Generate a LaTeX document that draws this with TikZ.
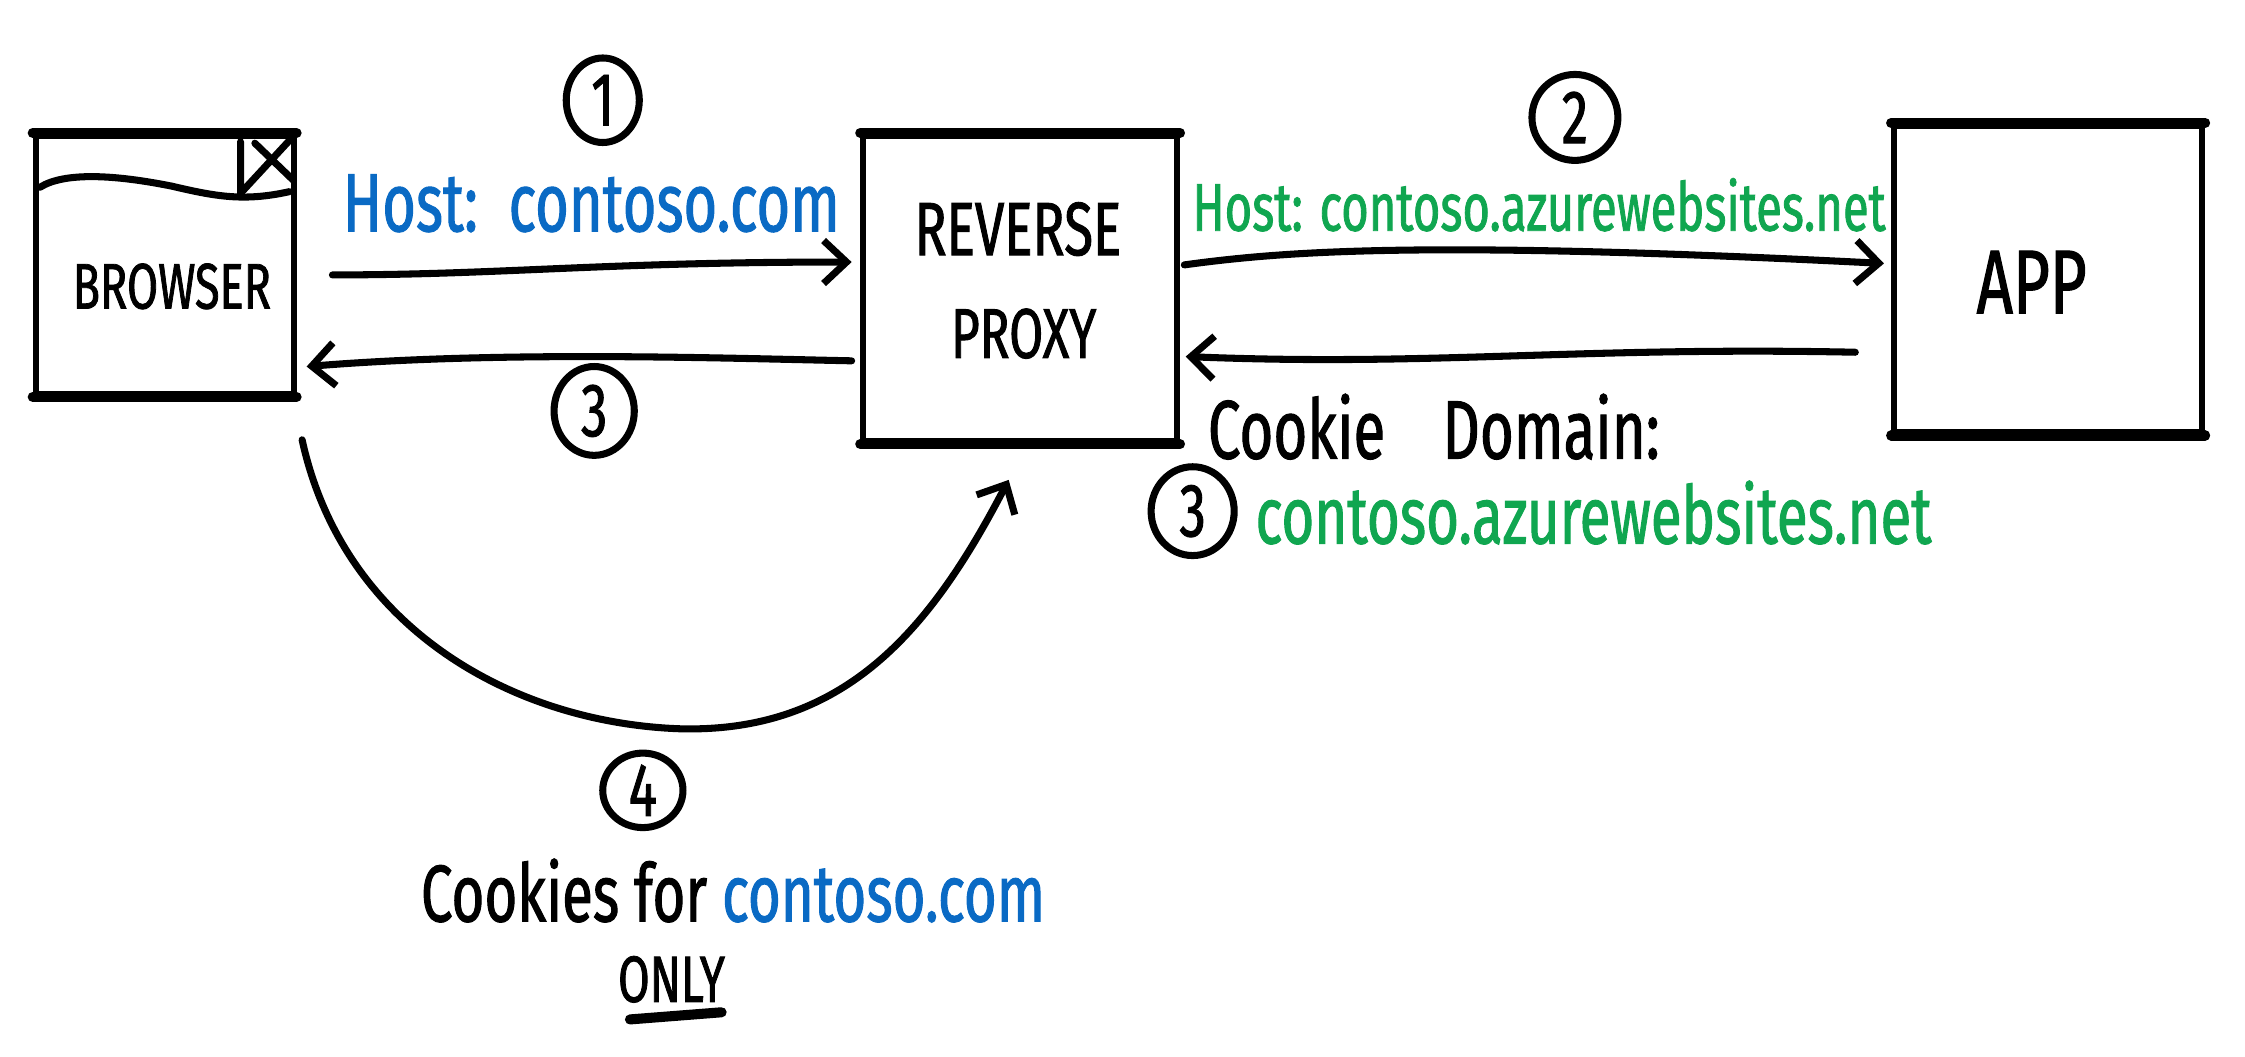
\documentclass[tikz,border=0pt]{standalone}
\usepackage{fontspec}
\setmainfont[FakeStretch=0.7,FakeBold=1.2]{Fira Sans}
\usetikzlibrary{arrows.meta,shapes.geometric}
\definecolor{hblue}{RGB}{10,106,196}
\definecolor{hgreen}{RGB}{16,166,80}
\tikzset{
  x=0.01cm, y=-0.01cm,
  pen/.style={line width=1.4pt, line cap=round, line join=round},
  thickpen/.style={line width=2pt, line cap=round},
  boxnode/.style={draw, line width=1.2pt, inner sep=0pt},
  flow/.style={pen, -{Straight Barb[length=0.16cm, width=0.3cm, line width=1.4pt]}},
  numcirc/.style={draw, ellipse, line width=1.4pt, inner sep=0pt, font=\fontsize{15}{15}\selectfont},
  lbl/.style={inner sep=0pt, anchor=center},
}
\begin{document}
\begin{tikzpicture}
\useasboundingbox (0,0) rectangle (1568,738);
% boxes
\node[boxnode, minimum width=1.8cm, minimum height=1.8cm] (browser) at (115,185) {};
\node[boxnode, minimum width=2.19cm, minimum height=2.13cm] (proxy) at (712.5,201.5) {};
\node[boxnode, minimum width=2.15cm, minimum height=2.14cm] (app) at (1430.5,195) {};
\foreach \b in {browser,proxy,app}{
  \draw[thickpen] (\b.north west) -- (\b.north east);
  \draw[thickpen] (\b.south west) -- (\b.south east);
}
% browser title bar and close mark
\draw[pen] ([shift={(5,38)}]browser.north west) .. controls (45,120) and (80,122) .. (120,130) .. controls (150,137) and (170,141) .. ([shift={(-5,41)}]browser.north east);
\draw[pen] (168,99) -- (168,135) -- (205,95);
\draw[pen] (178,100) -- (205,126);
% box labels
\node[lbl, font=\fontsize{12.8}{12.8}\selectfont] (tbrowser) at (120,200) {BROWSER};
\node[lbl, font=\fontsize{15}{15}\selectfont] (treverse) at (711,160) {REVERSE};
\node[lbl, font=\fontsize{14}{14}\selectfont] (tproxy) at (715,233) {PROXY};
\node[lbl, font=\fontsize{18}{18}\selectfont] (tapp) at (1419,197) {APP};
% arrows
\draw[flow] ([shift={(25,7)}]browser.east) .. controls (350,192) and (420,183) .. ([shift={(-6,-18.5)}]proxy.west);
\draw[flow] ([shift={(-6,50.5)}]proxy.west) .. controls (500,250) and (350,245) .. ([shift={(7,71)}]browser.east);
\draw[flow] ([shift={(3,-16.5)}]proxy.east) .. controls (900,175) and (1000,168) .. ([shift={(-5,-11)}]app.west);
\draw[flow] ([shift={(-25,51)}]app.west) .. controls (1100,242) and (1000,256) .. ([shift={(4,47.5)}]proxy.east);
\draw[flow] ([shift={(96,30)}]browser.south) .. controls (240,440) and (360,505) .. (475,509) .. controls (590,512) and (650,440) .. ([shift={(-8,25)}]proxy.south);
% numbered circles
\node[numcirc, minimum width=0.51cm, minimum height=0.59cm] (c1) at (421,70) {1};
\node[numcirc, minimum width=0.6cm, minimum height=0.6cm] (c2) at (1100,82) {2};
\node[numcirc, minimum width=0.56cm, minimum height=0.62cm] (c3a) at (415,287) {3};
\node[numcirc, minimum width=0.58cm, minimum height=0.62cm] (c3b) at (833,357) {3};
\node[numcirc, minimum width=0.56cm, minimum height=0.52cm] (c4) at (449,552) {4};
% labels
\node[lbl, text=hblue, font=\fontsize{16.4}{16.4}\selectfont] (host1) at (413,142) {Host:\ \ contoso.com};
\node[lbl, text=hgreen, font=\fontsize{13.4}{13.4}\selectfont] (host2) at (1075,143) {Host: contoso.azurewebsites.net};
\node[lbl, anchor=west, font=\fontsize{16.5}{16.5}\selectfont] (cookiedom) at (843,298) {Cookie\hspace{0.4cm}Domain:};
\node[lbl, text=hgreen, font=\fontsize{16}{16}\selectfont] (dom) at (1113,358) {contoso.azurewebsites.net};
\node[lbl, font=\fontsize{16}{16}\selectfont] (cookies) at (512,622) {Cookies for \textcolor{hblue}{contoso.com}};
\node[lbl, font=\fontsize{13}{13}\selectfont] (only) at (469,684) {ONLY};
\draw[thickpen] ([shift={(-29,28)}]only.center) -- ([shift={(35,23)}]only.center);
\end{tikzpicture}
\end{document}
